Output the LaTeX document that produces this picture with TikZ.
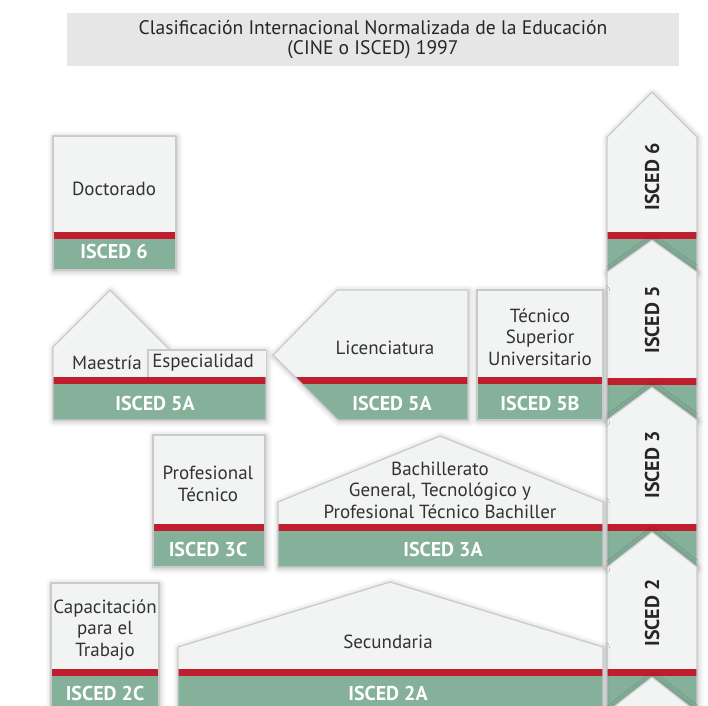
\documentclass[tikz,border=0pt]{standalone}
\usepackage{fontspec}
\setmainfont{PT Sans}
\usetikzlibrary{shadows.blur}
\definecolor{cajagris}{HTML}{F2F3F3}
\definecolor{bordegris}{HTML}{C9CACA}
\definecolor{rojoisced}{HTML}{BE1E2D}
\definecolor{verdeisced}{HTML}{85B09A}
\definecolor{titulogris}{HTML}{E6E6E6}
\definecolor{textogris}{HTML}{333333}
\tikzset{
  caja/.style={fill=cajagris, blur shadow={shadow xshift=0.4pt, shadow yshift=-0.6pt, shadow blur radius=3pt, shadow opacity=30}},
  borde/.style={draw=bordegris, line width=0.6pt, line join=round},
  texto/.style={text=textogris, font=\fontsize{9.5}{10.8}\selectfont, align=center, inner sep=0pt},
  etiqueta/.style={text=white, font=\bfseries\fontsize{10}{11}\selectfont, inner sep=0pt},
  nivel/.style={text=black!85, font=\bfseries\fontsize{10}{11}\selectfont, rotate=90, inner sep=0pt}
}
\newcommand{\bloque}[2]{%
  \fill[caja] #1;
  \begin{scope}
    \clip #1;
    \fill[rojoisced] (0,#2) rectangle (720,#2+7);
    \fill[verdeisced] (0,#2+7) rectangle (720,760);
  \end{scope}
  \draw[borde] #1;}

\begin{document}
\begin{tikzpicture}[x=0.5pt, y=-0.5pt]
    \useasboundingbox (0,0) rectangle (708,706);
    \fill[titulogris] (67,13) rectangle (679,66);
    \node[texto, text=black!85, font=\fontsize{9.8}{10}\selectfont] (titulo) at (373,40)
        {Clasificación Internacional Normalizada de la Educación\\(CINE o ISCED) 1997};
    \foreach \pk/\sh/\rj/\fn in {92/137/232/272, 240/272/378/420, 387/420/524/567, 532/567/669/712, 677/712/800/800}
        \bloque{(607,\sh) -- (652,\pk) -- (697,\sh) -- (697,\fn) -- (607,\fn) -- cycle}{\rj};
    \node[nivel] (n6) at (652,177) {ISCED 6};
    \node[nivel] (n5) at (652,320) {ISCED 5};
    \node[nivel] (n3) at (652,465) {ISCED 3};
    \node[nivel] (n2) at (652,613) {ISCED 2};

    \bloque{(53,136) rectangle (176,270)}{232}
    \node[texto] (doctorado) at (114,189) {Doctorado};
    \node[etiqueta] (e6) at (114,252) {ISCED 6};

    \bloque{(53,420) -- (53,347) -- (110,290) -- (170,350) -- (266,350) -- (266,420) -- cycle}{377}
    \fill[cajagris] (148,350) rectangle (266,377);
    \draw[borde] (148,377) -- (148,350) -- (266,350);
    \node[texto] (maestria) at (107,363) {Maestría};
    \node[texto] (especialidad) at (203,363) {Especialidad};
    \node[etiqueta] (e5a) at (155,403) {ISCED 5A};

    \bloque{(273,355) -- (337,290) -- (468,290) -- (468,420) -- (338,420) -- cycle}{377}
    \node[texto] (licenciatura) at (385,348) {Licenciatura};
    \node[etiqueta] (e5al) at (392,403) {ISCED 5A};

    \bloque{(477,290) rectangle (603,420)}{377}
    \node[texto] (tsu) at (540,337) {Técnico\\Superior\\Universitario};
    \node[etiqueta] (e5b) at (540,403) {ISCED 5B};

    \bloque{(153,435) rectangle (265,567)}{524}
    \node[texto] (profesional) at (208,484) {Profesional\\Técnico};
    \node[etiqueta] (e3c) at (208,549) {ISCED 3C};

    \bloque{(278,567) -- (278,502) -- (440,436) -- (603,502) -- (603,567) -- cycle}{524}
    \node[texto] (bachillerato) at (440,490) {Bachillerato\\General, Tecnológico y\\Profesional Técnico Bachiller};
    \node[etiqueta] (e3a) at (443,549) {ISCED 3A};

    \bloque{(51,583) rectangle (159,730)}{669}
    \node[texto] (capacitacion) at (105,630) {Capacitación\\para el\\Trabajo};
    \node[etiqueta] (e2c) at (105,693) {ISCED 2C};

    \bloque{(178,730) -- (178,647) -- (390,582) -- (603,647) -- (603,730) -- cycle}{669}
    \node[texto] (secundaria) at (388,642) {Secundaria};
    \node[etiqueta] (e2a) at (388,693) {ISCED 2A};
\end{tikzpicture}
\end{document}
